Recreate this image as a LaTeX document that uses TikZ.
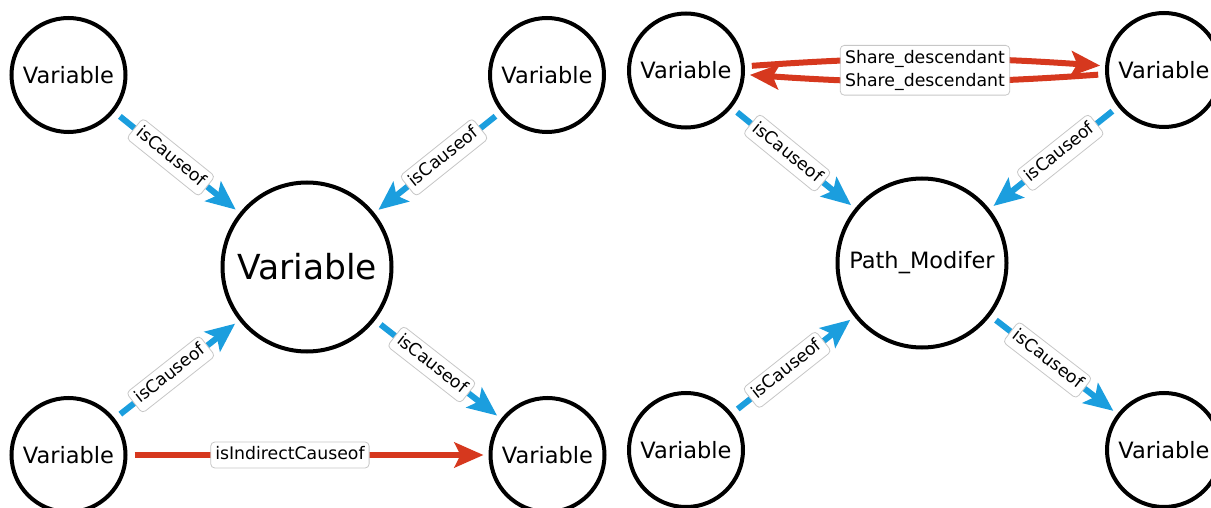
\documentclass[tikz,border=0pt]{standalone}
\usepackage{fontspec}
\setmainfont{DejaVu Sans}
\usetikzlibrary{arrows.meta,fit}

\definecolor{causeblue}{RGB}{27,158,222}
\definecolor{sharered}{RGB}{214,56,30}

\begin{document}
\begin{tikzpicture}[x=1pt,y=-1pt,
  var/.style={circle,draw,line width=4pt,minimum size=114pt,inner sep=0pt,font=\fontsize{22.5}{27}\selectfont},
  hub/.style={var,minimum size=169pt},
  cause/.style={causeblue,line width=6pt,-{Stealth[length=29pt,width=25pt,inset=6pt]},shorten <=7pt,shorten >=5pt},
  indirect/.style={cause,sharered},
  lbl/.style={fill=white,draw=black!22,line width=0.8pt,rounded corners=4pt,text=black,font=\fontsize{17.3}{20}\selectfont,inner xsep=4.5pt,inner ysep=5pt,text height=12.5pt,text depth=3.5pt}]
\useasboundingbox (0,0) rectangle (1211,508);

\node[var] (vtl) at (68.5,75) {Variable};
\node[var] (vtr) at (547,75) {Variable};
\node[hub,font=\fontsize{34.5}{40}\selectfont] (vmid) at (307,267) {Variable};
\node[var] (vbl) at (68.5,455) {Variable};
\node[var] (vbr) at (547.5,455) {Variable};

\node[var] (ptl) at (686,70.5) {Variable};
\node[var] (ptr) at (1164,70) {Variable};
\node[hub] (pmod) at (922,263) {Path\_Modifer};
\node[var] (pbl) at (686,450) {Variable};
\node[var] (pbr) at (1164,450) {Variable};

\draw[cause] (vtl) -- node[lbl,sloped,pos=0.45] {isCauseof} (vmid);
\draw[cause] (vtr) -- node[lbl,sloped,pos=0.45] {isCauseof} (vmid);
\draw[cause] (vbl) -- node[lbl,sloped,pos=0.45] {isCauseof} (vmid);
\draw[cause] (vmid) -- node[lbl,sloped,pos=0.45] {isCauseof} (vbr);
\draw[indirect] (vbl) -- node[lbl,pos=0.45] {isIndirectCauseof} (vbr);

\draw[cause] (ptl) -- node[lbl,sloped,pos=0.45] {isCauseof} (pmod);
\draw[cause] (ptr) -- node[lbl,sloped,pos=0.45] {isCauseof} (pmod);
\draw[cause] (pbl) -- node[lbl,sloped,pos=0.45] {isCauseof} (pmod);
\draw[cause] (pmod) -- node[lbl,sloped,pos=0.45] {isCauseof} (pbr);
\draw[indirect] (ptl) to[bend left=4] node[lbl,draw=none,pos=0.5] (s1) {Share\_descendant} (ptr);
\draw[indirect] (ptr) to[bend left=4] node[lbl,draw=none,pos=0.5] (s2) {Share\_descendant} (ptl);
\node[draw=black!22,line width=0.8pt,rounded corners=4pt,inner sep=0pt,fit=(s1)(s2)] (sbox) {};
\end{tikzpicture}
\end{document}
